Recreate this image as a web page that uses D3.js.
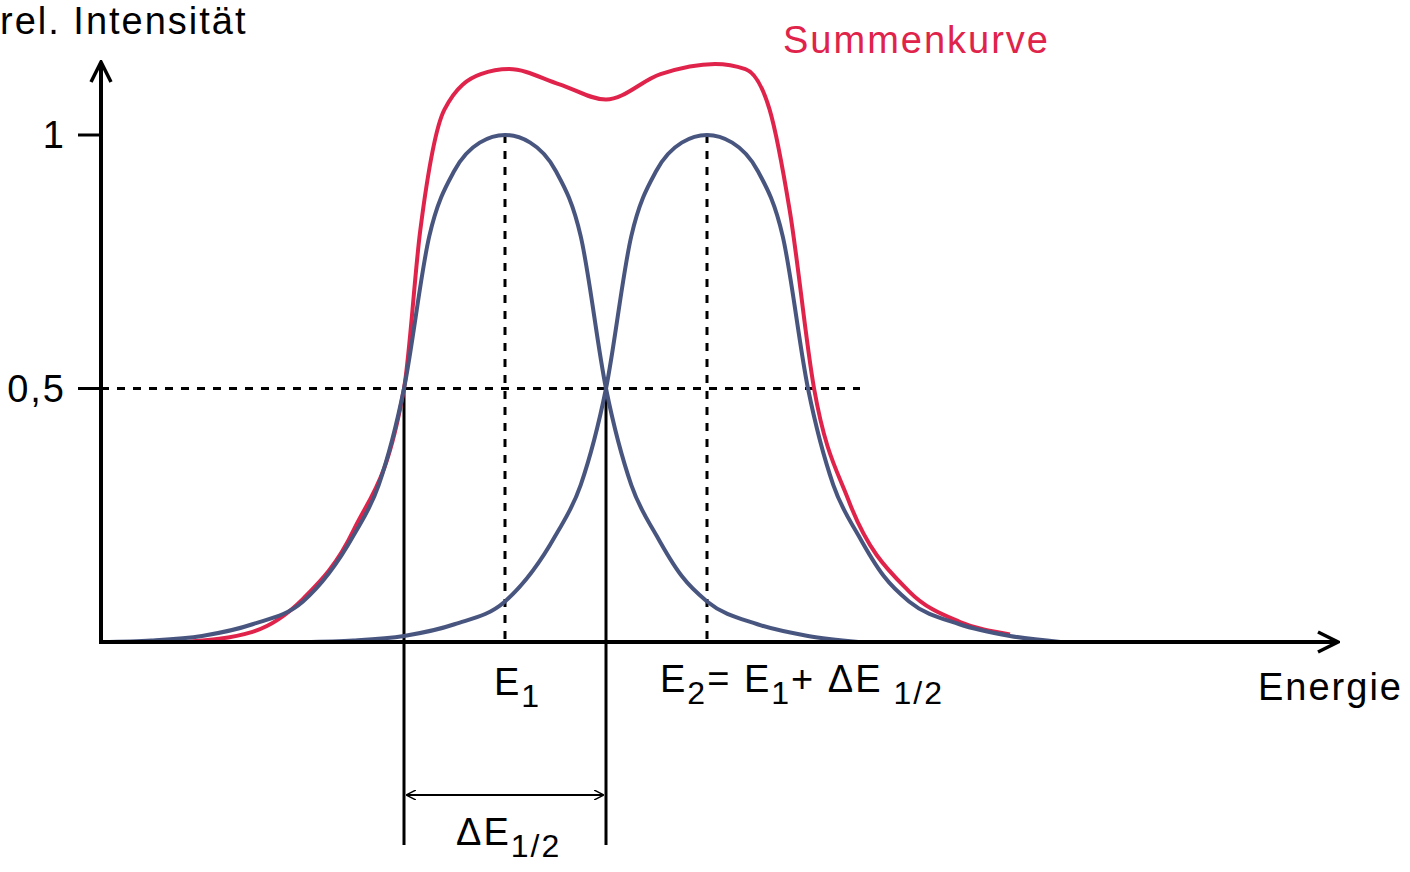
<!DOCTYPE html><html><head><meta charset="utf-8">
<script src="https://d3js.org/d3.v7.min.js"></script>
<style>body{margin:0;background:#fff}text{font-family:"Liberation Sans",Arial,sans-serif;font-size:38px;letter-spacing:2px}</style>
</head><body><svg id="c" width="1410" height="872"></svg>
<script>
// peak 1 samples (energy units where E1=2, ΔE1/2=1)
const peak1X=[0,0.25,0.5,0.75,1,1.25,1.375,1.5,1.625,1.75,1.875,2,2.125,2.25,2.375,2.5,2.625,2.75,2.875,3,3.25,3.5,3.75];
const peak1Y=[0,0.003,0.012,0.035,0.08,0.21,0.31,0.5,0.8,0.93,0.985,1,0.985,0.93,0.8,0.5,0.31,0.21,0.13,0.08,0.035,0.012,0];
const peak2X=[1,1.25,1.5,1.75,2,2.25,2.375,2.5,2.625,2.75,2.875,3,3.125,3.25,3.375,3.5,3.625,3.75,3.875,4,4.25,4.5,4.75];
const peak2Y=[0,0.003,0.012,0.035,0.08,0.21,0.31,0.5,0.8,0.93,0.985,1,0.985,0.93,0.8,0.5,0.31,0.21,0.13,0.08,0.035,0.012,0];
const sumX=[0.42,0.75,1,1.25,1.5,1.58,1.7,1.88,2.02,2.27,2.5,2.77,3.04,3.19,3.31,3.41,3.53,3.7,4,4.25,4.5];
const sumY=[0,0.02,0.085,0.22,0.5,0.81,1.05,1.12,1.13,1.1,1.07,1.12,1.14,1.13,1.05,0.85,0.5,0.28,0.1,0.04,0.015];
const yTicks=[{v:1,l:"1"},{v:0.5,l:"0,5"}];
const E1=2,E2=3,half=[1.5,2.5];

const svg=d3.select("#c");
const x=d3.scaleLinear().domain([0,1]).range([101,303]);
const y=d3.scaleLinear().domain([0,1]).range([642,135]);
const blue="#48557f",red="#e0234a";
svg.append("defs").html(`<marker id="ah" viewBox="0 0 10 10" refX="9" refY="5" markerWidth="10" markerHeight="10" markerUnits="userSpaceOnUse" orient="auto-start-reverse"><path d="M0,0L10,5L0,10" fill="none" stroke="#000" stroke-width="1.5"/></marker>
<marker id="big" viewBox="0 0 24 24" refX="22" refY="12" markerWidth="24" markerHeight="24" markerUnits="userSpaceOnUse" orient="auto"><path d="M2,2L22,12L2,22" fill="none" stroke="#000" stroke-width="3.5"/></marker>`);
const line=d3.line().curve(d3.curveMonotoneX);
svg.append("line").attr("x1",x(0)).attr("x2",860).attr("y1",y(0.5)).attr("y2",y(0.5)).attr("stroke","#000").attr("stroke-width",3).attr("stroke-dasharray","8,8");
[E1,E2].forEach(e=>svg.append("line").attr("x1",x(e)).attr("x2",x(e)).attr("y1",y(1)).attr("y2",y(0)).attr("stroke","#000").attr("stroke-width",3).attr("stroke-dasharray","8,8"));
half.forEach(e=>svg.append("line").attr("x1",x(e)).attr("x2",x(e)).attr("y1",y(0.5)).attr("y2",845).attr("stroke","#000").attr("stroke-width",3));
svg.append("line").attr("x1",x(half[0])+3).attr("x2",x(half[1])-3).attr("y1",795).attr("y2",795).attr("stroke","#000").attr("stroke-width",2).attr("marker-start","url(#ah)").attr("marker-end","url(#ah)");
svg.append("path").attr("d",line(sumX.map((v,i)=>[x(v),y(sumY[i])]))).attr("fill","none").attr("stroke",red).attr("stroke-width",4);
[[peak1X,peak1Y],[peak2X,peak2Y]].forEach(([a,b])=>svg.append("path").attr("d",line(a.map((v,i)=>[x(v),y(b[i])]))).attr("fill","none").attr("stroke",blue).attr("stroke-width",4));
svg.append("line").attr("x1",x(0)).attr("y1",y(0)).attr("x2",x(0)).attr("y2",62).attr("stroke","#000").attr("stroke-width",4).attr("marker-end","url(#big)");
svg.append("line").attr("x1",x(0)-2).attr("y1",y(0)).attr("x2",1338).attr("y2",y(0)).attr("stroke","#000").attr("stroke-width",4).attr("marker-end","url(#big)");
yTicks.forEach(t=>{svg.append("line").attr("x1",78).attr("x2",x(0)).attr("y1",y(t.v)).attr("y2",y(t.v)).attr("stroke","#000").attr("stroke-width",3);
 svg.append("text").attr("x",66).attr("y",y(t.v)+13).attr("text-anchor","end").text(t.l);});
svg.append("text").attr("x",0).attr("y",34).text("rel. Intensität");
svg.append("text").attr("x",783).attr("y",53).attr("fill",red).text("Summenkurve");
svg.append("text").attr("x",1258).attr("y",700).text("Energie");
svg.append("text").attr("x",494).attr("y",695).html('E<tspan dy="12" font-size="32">1</tspan>');
svg.append("text").attr("x",660).attr("y",692).html('E<tspan dy="12" font-size="32">2</tspan><tspan dy="-12">= E</tspan><tspan dy="12" font-size="32">1</tspan><tspan dy="-12">+ ΔE</tspan><tspan dy="12" font-size="32"> 1/2</tspan>');
svg.append("text").attr("x",456).attr("y",845).html('ΔE<tspan dy="12" font-size="32">1/2</tspan>');
</script></body></html>
